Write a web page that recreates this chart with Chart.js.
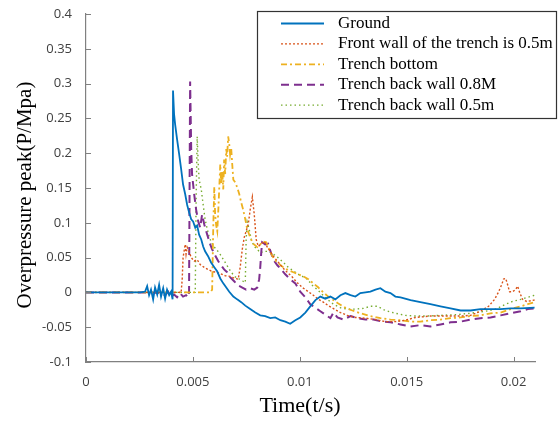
<!DOCTYPE html>
<html><head><meta charset="utf-8">
<script src="https://cdn.jsdelivr.net/npm/chart.js@4"></script>
<style>html,body{margin:0;padding:0;background:#fff}canvas{display:block}</style>
</head><body>
<canvas id="c" width="560" height="421"></canvas>
<script>
const seriesNames = ["Ground", "Front wall of the trench is 0.5m", "Trench bottom", "Trench back wall 0.8M", "Trench back wall 0.5m"];
const xTitle = "Time(t/s)";
const yTitle = "Overpressure peak(P/Mpa)";
const xTicks = [0, 0.005, 0.01, 0.015, 0.02];
const yTicks = [-0.1, -0.05, 0, 0.05, 0.1, 0.15, 0.2, 0.25, 0.3, 0.35, 0.4];

const groundT = [0, 0.00253, 0.00276, 0.00286, 0.00295, 0.00304, 0.00314, 0.00323, 0.00333, 0.00342, 0.00351, 0.00361, 0.00370, 0.00379, 0.00389, 0.00398, 0.00405, 0.00407, 0.00412, 0.00417, 0.00426, 0.00436, 0.00445, 0.00454, 0.00464, 0.00473, 0.00482, 0.00492, 0.00501, 0.00511, 0.00520, 0.00529, 0.00539, 0.00548, 0.00557, 0.00571, 0.00585, 0.00600, 0.00614, 0.00628, 0.00642, 0.00656, 0.00670, 0.00689, 0.00707, 0.00726, 0.00745, 0.00768, 0.00792, 0.00815, 0.00838, 0.00862, 0.00885, 0.00909, 0.00932, 0.00955, 0.00979, 0.01002, 0.01026, 0.01049, 0.01073, 0.01096, 0.01119, 0.01143, 0.01166, 0.01190, 0.01213, 0.01237, 0.01260, 0.01283, 0.01307, 0.01330, 0.01354, 0.01377, 0.01400, 0.01424, 0.01447, 0.01471, 0.01518, 0.01564, 0.01611, 0.01658, 0.01705, 0.01752, 0.01799, 0.01845, 0.01892, 0.01939, 0.01986, 0.02033, 0.02098];
const groundP = [0, 0, 0.001, 0.009, -0.004, 0.004, -0.010, 0.007, -0.003, 0.011, -0.006, 0.006, -0.009, 0.004, -0.004, 0.001, -0.010, 0.290, 0.256, 0.241, 0.220, 0.198, 0.177, 0.155, 0.141, 0.126, 0.115, 0.105, 0.102, 0.093, 0.096, 0.083, 0.076, 0.066, 0.059, 0.052, 0.043, 0.036, 0.030, 0.020, 0.013, 0.007, 0.001, -0.006, -0.010, -0.014, -0.019, -0.024, -0.029, -0.033, -0.034, -0.037, -0.036, -0.040, -0.042, -0.045, -0.040, -0.036, -0.029, -0.020, -0.011, -0.006, -0.009, -0.006, -0.010, -0.004, -0.001, -0.004, -0.006, -0.001, 0, 0.001, 0.004, 0.006, 0.001, -0.001, -0.006, -0.007, -0.011, -0.014, -0.017, -0.020, -0.023, -0.026, -0.026, -0.024, -0.024, -0.024, -0.023, -0.023, -0.022];

const frontT = [0, 0.00445, 0.00450, 0.00454, 0.00464, 0.00468, 0.00473, 0.00482, 0.00492, 0.00506, 0.00520, 0.00534, 0.00553, 0.00571, 0.00590, 0.00609, 0.00628, 0.00651, 0.00674, 0.00698, 0.00712, 0.00721, 0.00731, 0.00740, 0.00749, 0.00759, 0.00768, 0.00778, 0.00787, 0.00796, 0.00806, 0.00820, 0.00834, 0.00848, 0.00862, 0.00876, 0.00895, 0.00918, 0.00941, 0.00965, 0.00988, 0.01012, 0.01040, 0.01063, 0.01087, 0.01110, 0.01133, 0.01162, 0.01190, 0.01222, 0.01260, 0.01307, 0.01354, 0.01400, 0.01447, 0.01494, 0.01541, 0.01611, 0.01681, 0.01752, 0.01799, 0.01845, 0.01883, 0.01911, 0.01930, 0.01944, 0.01953, 0.01963, 0.01972, 0.01981, 0.01995, 0.02009, 0.02019, 0.02028, 0.02042, 0.02061, 0.02098];
const frontP = [0, 0, 0.019, 0.050, 0.069, 0.055, 0.065, 0.059, 0.050, 0.045, 0.047, 0.040, 0.036, 0.033, 0.030, 0.029, 0.027, 0.024, 0.023, 0.020, 0.019, 0.036, 0.062, 0.079, 0.088, 0.098, 0.119, 0.137, 0.112, 0.076, 0.066, 0.070, 0.073, 0.065, 0.059, 0.052, 0.045, 0.036, 0.029, 0.022, 0.014, 0.007, 0.001, -0.004, -0.010, -0.014, -0.019, -0.024, -0.029, -0.033, -0.036, -0.037, -0.039, -0.042, -0.042, -0.040, -0.036, -0.034, -0.034, -0.034, -0.033, -0.027, -0.020, -0.010, 0.001, 0.011, 0.019, 0.020, 0.011, 0.001, 0.001, 0.004, 0.009, 0, -0.010, -0.013, -0.011];

const bottomT = [0, 0.00581, 0.00590, 0.00595, 0.00600, 0.00604, 0.00609, 0.00614, 0.00618, 0.00623, 0.00628, 0.00632, 0.00637, 0.00642, 0.00646, 0.00651, 0.00656, 0.00660, 0.00665, 0.00670, 0.00674, 0.00679, 0.00684, 0.00689, 0.00698, 0.00707, 0.00717, 0.00726, 0.00735, 0.00745, 0.00754, 0.00768, 0.00782, 0.00801, 0.00815, 0.00829, 0.00843, 0.00852, 0.00867, 0.00881, 0.00899, 0.00923, 0.00946, 0.00970, 0.00993, 0.01016, 0.01040, 0.01063, 0.01087, 0.01110, 0.01133, 0.01157, 0.01180, 0.01213, 0.01246, 0.01283, 0.01330, 0.01377, 0.01424, 0.01471, 0.01518, 0.01564, 0.01611, 0.01658, 0.01705, 0.01752, 0.01799, 0.01845, 0.01892, 0.01939, 0.01986, 0.02033, 0.02066, 0.02098];
const bottomP = [0, 0, 0.004, 0.091, 0.152, 0.112, 0.096, 0.088, 0.112, 0.148, 0.184, 0.155, 0.174, 0.148, 0.191, 0.170, 0.206, 0.195, 0.224, 0.213, 0.198, 0.208, 0.184, 0.162, 0.158, 0.151, 0.141, 0.129, 0.119, 0.105, 0.091, 0.079, 0.070, 0.065, 0.069, 0.073, 0.072, 0.065, 0.055, 0.047, 0.042, 0.036, 0.032, 0.029, 0.026, 0.023, 0.019, 0.013, 0.007, 0, -0.006, -0.011, -0.016, -0.022, -0.026, -0.030, -0.034, -0.037, -0.039, -0.040, -0.042, -0.042, -0.040, -0.039, -0.037, -0.036, -0.034, -0.033, -0.030, -0.029, -0.024, -0.020, -0.017, -0.014];

const back08T = [0, 0.00300, 0.00347, 0.00370, 0.00384, 0.00398, 0.00412, 0.00426, 0.00440, 0.00454, 0.00468, 0.00478, 0.00482, 0.00487, 0.00492, 0.00496, 0.00506, 0.00515, 0.00525, 0.00534, 0.00543, 0.00553, 0.00562, 0.00571, 0.00581, 0.00590, 0.00604, 0.00618, 0.00632, 0.00646, 0.00660, 0.00674, 0.00693, 0.00712, 0.00731, 0.00749, 0.00768, 0.00787, 0.00801, 0.00810, 0.00815, 0.00820, 0.00824, 0.00838, 0.00852, 0.00867, 0.00881, 0.00895, 0.00913, 0.00932, 0.00955, 0.00979, 0.01002, 0.01026, 0.01049, 0.01073, 0.01096, 0.01119, 0.01143, 0.01157, 0.01176, 0.01204, 0.01237, 0.01269, 0.01307, 0.01344, 0.01386, 0.01424, 0.01471, 0.01518, 0.01564, 0.01611, 0.01658, 0.01705, 0.01752, 0.01799, 0.01845, 0.01892, 0.01939, 0.01986, 0.02033, 0.02066, 0.02098];
const back08P = [0, 0, -0.001, -0.004, 0.001, -0.006, -0.003, -0.007, -0.001, -0.006, -0.004, -0.007, 0, 0.303, 0.206, 0.170, 0.141, 0.119, 0.102, 0.093, 0.112, 0.098, 0.088, 0.079, 0.069, 0.062, 0.053, 0.045, 0.039, 0.033, 0.029, 0.022, 0.016, 0.010, 0.007, 0.004, 0.006, 0.004, 0.007, 0.019, 0.036, 0.059, 0.072, 0.069, 0.070, 0.055, 0.045, 0.039, 0.033, 0.026, 0.019, 0.013, 0.001, -0.007, -0.017, -0.022, -0.027, -0.032, -0.037, -0.029, -0.036, -0.039, -0.034, -0.037, -0.039, -0.039, -0.042, -0.043, -0.046, -0.049, -0.047, -0.049, -0.046, -0.043, -0.042, -0.039, -0.037, -0.036, -0.033, -0.030, -0.027, -0.024, -0.023];

const back05T = [0, 0.00511, 0.00515, 0.00520, 0.00525, 0.00529, 0.00539, 0.00548, 0.00557, 0.00567, 0.00576, 0.00585, 0.00595, 0.00609, 0.00623, 0.00637, 0.00651, 0.00665, 0.00679, 0.00693, 0.00707, 0.00721, 0.00735, 0.00745, 0.00749, 0.00754, 0.00763, 0.00773, 0.00787, 0.00801, 0.00815, 0.00834, 0.00852, 0.00871, 0.00890, 0.00909, 0.00927, 0.00946, 0.00965, 0.00988, 0.01012, 0.01035, 0.01059, 0.01082, 0.01105, 0.01129, 0.01157, 0.01190, 0.01222, 0.01260, 0.01297, 0.01330, 0.01363, 0.01400, 0.01447, 0.01494, 0.01541, 0.01588, 0.01658, 0.01728, 0.01799, 0.01869, 0.01916, 0.01963, 0.01995, 0.02033, 0.02066, 0.02098];
const back05P = [0, 0, 0.134, 0.224, 0.184, 0.162, 0.148, 0.126, 0.105, 0.091, 0.080, 0.073, 0.067, 0.062, 0.057, 0.050, 0.043, 0.036, 0.029, 0.024, 0.020, 0.019, 0.016, 0.014, 0.076, 0.101, 0.091, 0.076, 0.066, 0.062, 0.057, 0.059, 0.059, 0.056, 0.052, 0.047, 0.042, 0.036, 0.032, 0.027, 0.023, 0.019, 0.010, 0.004, -0.003, -0.010, -0.017, -0.022, -0.024, -0.024, -0.023, -0.020, -0.020, -0.026, -0.030, -0.033, -0.034, -0.034, -0.033, -0.032, -0.030, -0.027, -0.024, -0.017, -0.013, -0.010, -0.007, -0.004];

function pts(t, p) { return t.map((x, i) => ({ x: x, y: p[i] })); }

const decor = {
  id: 'decor',
  afterDraw(chart) {
    const { ctx, chartArea: a, scales: { x, y } } = chart;
    ctx.save();
    ctx.strokeStyle = '#808080'; ctx.lineWidth = 1;
    ctx.beginPath();
    y.ticks.forEach(t => { const py = Math.round(y.getPixelForValue(t.value)) + 0.5; ctx.moveTo(a.left, py); ctx.lineTo(a.left + 5, py); });
    x.ticks.forEach(t => { const px = Math.round(x.getPixelForValue(t.value)) + 0.5; ctx.moveTo(px, a.bottom); ctx.lineTo(px, a.bottom - 5); });
    ctx.stroke();
    ctx.fillStyle = '#000';
    ctx.textAlign = 'center'; ctx.textBaseline = 'middle';
    ctx.font = '22px "Liberation Serif", "Times New Roman", serif';
    ctx.fillText(xTitle, 300, 406);
    ctx.save();
    ctx.translate(25, 195); ctx.rotate(-Math.PI / 2);
    ctx.font = '21px "Liberation Serif", "Times New Roman", serif';
    ctx.fillText(yTitle, 0, 0);
    ctx.restore();
    ctx.fillStyle = '#fff'; ctx.fillRect(257, 11, 300, 107);
    ctx.strokeStyle = '#333'; ctx.lineWidth = 1.2; ctx.strokeRect(257.5, 11.5, 299, 107);
    chart.data.datasets.forEach((ds, i) => {
      const yy = 23.5 + i * 20.4;
      ctx.strokeStyle = ds.borderColor; ctx.lineWidth = ds.borderWidth;
      ctx.setLineDash(ds.borderDash || []);
      ctx.beginPath(); ctx.moveTo(281, yy); ctx.lineTo(324, yy); ctx.stroke();
      ctx.setLineDash([]);
      ctx.fillStyle = '#000'; ctx.textAlign = 'left'; ctx.textBaseline = 'middle';
      ctx.font = '17px "Liberation Serif", "Times New Roman", serif';
      ctx.fillText(ds.label, 338, yy);
    });
    ctx.restore();
  }
};

const common = { pointRadius: 0, tension: 0, fill: false };
new Chart(document.getElementById('c'), {
  type: 'line',
  data: {
    datasets: [
      Object.assign({ label: seriesNames[0], data: pts(groundT, groundP), borderColor: '#0072BD', borderWidth: 1.8 }, common),
      Object.assign({ label: seriesNames[1], data: pts(frontT, frontP), borderColor: '#D95319', borderWidth: 1.4, borderDash: [2, 2] }, common),
      Object.assign({ label: seriesNames[2], data: pts(bottomT, bottomP), borderColor: '#EDB120', borderWidth: 1.8, borderDash: [6, 3, 2, 3] }, common),
      Object.assign({ label: seriesNames[3], data: pts(back08T, back08P), borderColor: '#7E2F8E', borderWidth: 2, borderDash: [8, 5] }, common),
      Object.assign({ label: seriesNames[4], data: pts(back05T, back05P), borderColor: '#77AC30', borderWidth: 1.4, borderDash: [1.5, 3] }, common)
    ]
  },
  options: {
    responsive: false,
    devicePixelRatio: 1,
    animation: false,
    layout: { padding: { top: 14, right: 25, bottom: 0, left: 0 } },
    plugins: { legend: { display: false }, tooltip: { enabled: false } },
    scales: {
      x: {
        type: 'linear', min: 0, max: 0.021,
        afterBuildTicks: s => { s.ticks = xTicks.map(v => ({ value: v })); },
        afterFit: s => { s.height = 59; },
        grid: { display: false },
        border: { display: true, color: '#808080', width: 1.2 },
        ticks: { padding: 4, color: '#404040', font: { family: '"Open Sans", sans-serif', size: 13 }, maxRotation: 0,
          callback: v => String(parseFloat(Number(v).toFixed(4))) }
      },
      y: {
        type: 'linear', min: -0.1, max: 0.4,
        afterBuildTicks: s => { s.ticks = yTicks.map(v => ({ value: v })); },
        afterFit: s => { s.width = 86; },
        grid: { display: false },
        border: { display: true, color: '#808080', width: 1.2 },
        ticks: { padding: 6, color: '#404040', font: { family: '"Open Sans", sans-serif', size: 13 },
          callback: v => String(parseFloat(Number(v).toFixed(3))) }
      }
    }
  },
  plugins: [decor]
});
</script>
</body></html>
